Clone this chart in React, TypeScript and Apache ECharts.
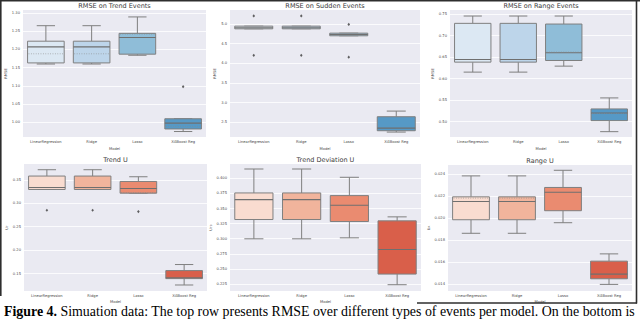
import React, { useEffect, useRef } from 'react';
import * as echarts from 'echarts';

const models = ['LinearRegression', 'Ridge', 'Lasso', 'XGBoost Reg'];

const blues = ['#dce8f3', '#bdd5ea', '#8fbdd8', '#5699c6'];
const reds = ['#f9dcd0', '#f1b49c', '#ea8b70', '#d95f4a'];

// each box: [low whisker, Q1, median, Q3, high whisker]
const trendEventsBoxes = [
  [1.16, 1.163, 1.207, 1.2225, 1.265],
  [1.16, 1.163, 1.207, 1.2225, 1.265],
  [1.184, 1.187, 1.2325, 1.244, 1.289],
  [0.975, 0.982, 0.998, 1.01, 1.01],
];
const trendEventsMeans = [1.188, 1.188, 1.242, 0.989];
const trendEventsOutliers = [[3, 1.098]];
const trendEventsTicks = [1.0, 1.05, 1.1, 1.15, 1.2, 1.25, 1.3];

const suddenEventsBoxes = [
  [4.873, 4.873, 4.9, 4.94, 4.94],
  [4.873, 4.873, 4.9, 4.94, 4.94],
  [4.696, 4.696, 4.73, 4.763, 4.763],
  [2.255, 2.289, 2.356, 2.644, 2.787],
];
const suddenEventsMeans = [null, null, null, null];
const suddenEventsOutliers = [[0, 5.2], [0, 4.2], [1, 5.2], [1, 4.2], [2, 4.985], [2, 4.155]];
const suddenEventsTicks = [2.5, 3.0, 3.5, 4.0, 4.5, 5.0];

const rangeEventsBoxes = [
  [0.615, 0.6382, 0.6444, 0.7283, 0.7453],
  [0.615, 0.6382, 0.6444, 0.7283, 0.7453],
  [0.6289, 0.642, 0.66, 0.7267, 0.7453],
  [0.4767, 0.5023, 0.5202, 0.5295, 0.5551],
];
const rangeEventsMeans = [null, null, 0.6615, 0.519];
const rangeEventsOutliers: number[][] = [];
const rangeEventsTicks = [0.5, 0.55, 0.6, 0.65, 0.7, 0.75];

const trendUBoxes = [
  [0.3293, 0.3293, 0.3336, 0.3579, 0.3714],
  [0.3293, 0.3293, 0.3336, 0.3579, 0.3714],
  [0.3214, 0.3214, 0.3314, 0.3464, 0.3564],
  [0.1257, 0.1393, 0.1412, 0.1564, 0.1693],
];
const trendUMeans = [null, null, 0.3228, null];
const trendUOutliers = [[0, 0.285], [1, 0.285], [2, 0.2821]];
const trendUTicks = [0.15, 0.2, 0.25, 0.3, 0.35];

const trendDevUBoxes = [
  [0.2999, 0.3318, 0.3648, 0.3758, 0.4154],
  [0.2999, 0.3318, 0.3648, 0.3758, 0.4154],
  [0.3015, 0.3285, 0.3554, 0.3714, 0.4017],
  [0.2239, 0.2415, 0.2822, 0.3296, 0.3362],
];
const trendDevUMeans = [null, null, null, null];
const trendDevUOutliers: number[][] = [];
const trendDevUTicks = [0.225, 0.25, 0.275, 0.3, 0.325, 0.35, 0.375, 0.4];

const rangeUBoxes = [
  [0.01861, 0.01984, 0.0215, 0.02192, 0.02382],
  [0.01861, 0.01984, 0.0215, 0.02192, 0.02382],
  [0.01957, 0.02066, 0.02234, 0.02277, 0.02433],
  [0.01397, 0.01448, 0.0149, 0.01608, 0.01674],
];
const rangeUMeans = [0.0218, 0.0218, null, null];
const rangeUOutliers: number[][] = [];
const rangeUTicks = [0.014, 0.016, 0.018, 0.02, 0.022, 0.024];

const panels = [
  { title: 'RMSE on Trend Events', yName: 'RMSE', boxes: trendEventsBoxes, means: trendEventsMeans, outliers: trendEventsOutliers, ticks: trendEventsTicks, min: 0.96, max: 1.308, dec: 2, colors: blues, left: 23, top: 10, width: 183, height: 127, nameGap: 11, xNameGap: 9.5 },
  { title: 'RMSE on Sudden Events', yName: 'RMSE', boxes: suddenEventsBoxes, means: suddenEventsMeans, outliers: suddenEventsOutliers, ticks: suddenEventsTicks, min: 2.13, max: 5.35, dec: 1, colors: blues, left: 230, top: 10, width: 190, height: 127, nameGap: 11, xNameGap: 9.5 },
  { title: 'RMSE on Range Events', yName: 'RMSE', boxes: rangeEventsBoxes, means: rangeEventsMeans, outliers: rangeEventsOutliers, ticks: rangeEventsTicks, min: 0.4643, max: 0.7593, dec: 2, colors: blues, left: 450, top: 10, width: 182, height: 127, nameGap: 14, xNameGap: 9.5 },
  { title: 'Trend U', yName: '{u|U}{s|T}', boxes: trendUBoxes, means: trendUMeans, outliers: trendUOutliers, ticks: trendUTicks, min: 0.1129, max: 0.3836, dec: 2, colors: reds, left: 24, top: 164, width: 183, height: 127, nameGap: 14, xNameGap: 8.5 },
  { title: 'Trend Deviation U', yName: '{u|U}{s|TD}', boxes: trendDevUBoxes, means: trendDevUMeans, outliers: trendDevUOutliers, ticks: trendDevUTicks, min: 0.2135, max: 0.4237, dec: 3, colors: reds, left: 230, top: 164, width: 191, height: 127, nameGap: 15, xNameGap: 8.5 },
  { title: 'Range U', yName: '{u|U}{s|R}', boxes: rangeUBoxes, means: rangeUMeans, outliers: rangeUOutliers, ticks: rangeUTicks, min: 0.01337, max: 0.02481, dec: 3, colors: reds, left: 448, top: 165, width: 184, height: 126, nameGap: 14, xNameGap: 8.5 },
];

const FONT = 'DejaVu Sans';
const LABEL_COLOR = '#4a4a4a';
const LINE_COLOR = '#7f7f7f';

function buildOption() {
  const grids = panels.map((p) => ({
    left: p.left, top: p.top, width: p.width, height: p.height,
    show: true, backgroundColor: '#eaeaf2', borderWidth: 0, containLabel: false,
  }));
  const xAxes = panels.map((p, i) => ({
    type: 'category', gridIndex: i, data: models, boundaryGap: true,
    axisLine: { show: false }, axisTick: { show: false }, splitLine: { show: false },
    axisLabel: { interval: 0, fontSize: 3.7, color: LABEL_COLOR, margin: 3, fontFamily: FONT },
    name: 'Model', nameLocation: 'middle', nameGap: p.xNameGap,
    nameTextStyle: { fontSize: 3.7, color: LABEL_COLOR, fontFamily: FONT },
  }));
  const yAxes = panels.map((p, i) => ({
    type: 'value', gridIndex: i, min: p.min, max: p.max,
    axisLine: { show: false },
    axisTick: { show: false, customValues: p.ticks },
    axisLabel: {
      customValues: p.ticks, fontSize: 3.7, color: LABEL_COLOR, margin: 3, fontFamily: FONT,
      formatter: (v: number) => Number(v).toFixed(p.dec),
    },
    splitLine: { show: true, lineStyle: { color: '#ffffff', width: 0.8 } },
    name: p.yName, nameLocation: 'middle', nameGap: p.nameGap,
    nameTextStyle: {
      fontSize: 3.7, color: LABEL_COLOR, fontFamily: FONT,
      rich: { u: { fontSize: 3.7, color: LABEL_COLOR, fontFamily: FONT }, s: { fontSize: 2.6, color: LABEL_COLOR, fontFamily: FONT, verticalAlign: 'bottom' } },
    },
  }));

  const series: any[] = [];
  panels.forEach((p, i) => {
    series.push({
      type: 'custom', xAxisIndex: i, yAxisIndex: i, name: p.title,
      encode: { x: 0, y: [1, 2, 3, 4, 5] },
      data: p.boxes.map((b, k) => [k, ...b]),
      renderItem: (params: any, api: any) => {
        const idx = api.value(0);
        const low = api.coord([idx, api.value(1)]);
        const q1 = api.coord([idx, api.value(2)]);
        const med = api.coord([idx, api.value(3)]);
        const q3 = api.coord([idx, api.value(4)]);
        const high = api.coord([idx, api.value(5)]);
        const band = api.size([1, 0])[0];
        const bw = band * 0.8;
        const cx = low[0];
        const half = bw / 2;
        const cap = bw / 4;
        const ls = { stroke: LINE_COLOR, lineWidth: 1 };
        const children: any[] = [
          { type: 'line', shape: { x1: cx, y1: q3[1], x2: cx, y2: high[1] }, style: ls },
          { type: 'line', shape: { x1: cx - cap, y1: high[1], x2: cx + cap, y2: high[1] }, style: ls },
          { type: 'line', shape: { x1: cx, y1: q1[1], x2: cx, y2: low[1] }, style: ls },
          { type: 'line', shape: { x1: cx - cap, y1: low[1], x2: cx + cap, y2: low[1] }, style: ls },
          { type: 'rect', shape: { x: cx - half, y: q3[1], width: bw, height: Math.max(q1[1] - q3[1], 0.5) }, style: { fill: p.colors[params.dataIndex], stroke: LINE_COLOR, lineWidth: 1 } },
          { type: 'line', shape: { x1: cx - half, y1: med[1], x2: cx + half, y2: med[1] }, style: { stroke: '#6f6f6f', lineWidth: 1.1 } },
        ];
        const m = p.means[params.dataIndex];
        if (m !== null && m !== undefined) {
          const mc = api.coord([idx, m]);
          children.push({ type: 'line', shape: { x1: cx - half + 1, y1: mc[1], x2: cx + half - 1, y2: mc[1] }, style: { stroke: '#8a8a8a', lineWidth: 0.7, lineDash: [0.8, 1.6] } });
        }
        return { type: 'group', children };
      },
      z: 3,
    });
    if (p.outliers.length) {
      series.push({
        type: 'scatter', xAxisIndex: i, yAxisIndex: i, name: p.title + ' outliers',
        data: p.outliers, symbol: 'diamond', symbolSize: [2.6, 3.2],
        itemStyle: { color: '#3a3a3a' }, z: 4,
      });
    }
  });

  const graphic: any[] = [];
  panels.forEach((p) => {
    graphic.push({
      type: 'text', x: p.left + p.width / 2, y: p.top - 4.1, z: 10,
      style: { text: p.title, fontSize: 6.5, fontWeight: 'normal', fontFamily: FONT, fill: '#3a3a3a', align: 'center', verticalAlign: 'middle', textAlign: 'center', textVerticalAlign: 'middle' },
    });
  });
  graphic.push({
    type: 'text', x: 4, y: 311.3, z: 10,
    style: {
      text: '{b|Figure 4.} Simuation data: The top row presents RMSE over different types of events per model. On the bottom is',
      fontSize: 13.9, fontFamily: 'Liberation Serif', fill: '#000', align: 'left', verticalAlign: 'middle', textAlign: 'left', textVerticalAlign: 'middle',
      rich: { b: { fontSize: 13.9, fontFamily: 'Liberation Serif', fontWeight: 'bold', fill: '#000', color: '#000' } },
    },
  });
  const frame = { stroke: '#2e2e2e', lineWidth: 1.6 };
  graphic.push({ type: 'line', shape: { x1: 0, y1: 0.8, x2: 640, y2: 0.8 }, style: frame, z: 10 });
  graphic.push({ type: 'line', shape: { x1: 0.8, y1: 0, x2: 0.8, y2: 296 }, style: frame, z: 10 });
  graphic.push({ type: 'line', shape: { x1: 636.5, y1: 0, x2: 636.5, y2: 303.5 }, style: frame, z: 10 });
  graphic.push({ type: 'line', shape: { x1: 417, y1: 303, x2: 637, y2: 303 }, style: frame, z: 10 });

  return {
    animation: false,
    backgroundColor: '#ffffff',
    grid: grids,
    xAxis: xAxes,
    yAxis: yAxes,
    series,
    graphic,
  };
}

export default function App() {
  const ref = useRef<HTMLDivElement>(null);
  useEffect(() => {
    if (!ref.current) return;
    const chart = echarts.init(ref.current, undefined, { renderer: 'svg' });
    chart.setOption(buildOption() as any);
    return () => chart.dispose();
  }, []);
  return <div ref={ref} style={{ position: 'absolute', left: 0, top: 0, width: 640, height: 320 }} />;
}
